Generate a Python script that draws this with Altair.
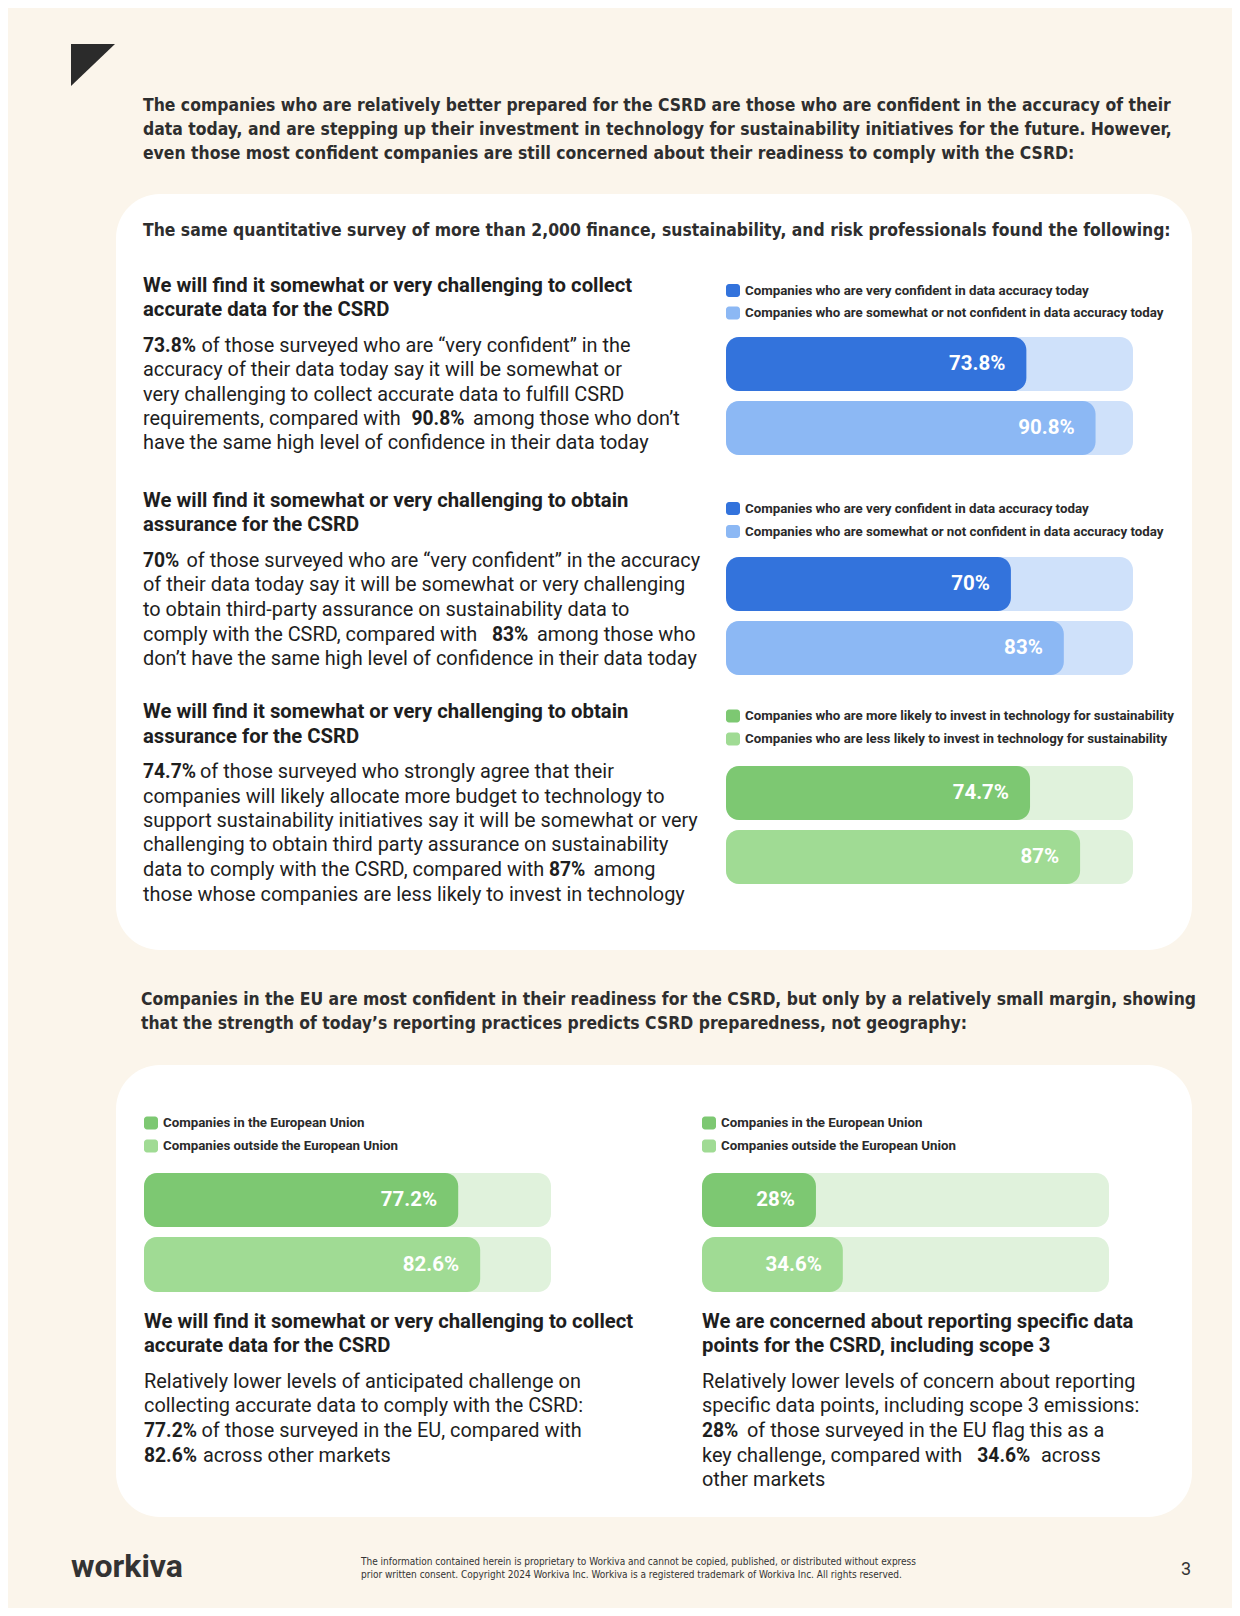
import altair as alt
import pandas as pd

# ---------------- data ----------------
values_collect_confidence = [73.8, 90.8]
values_assurance_confidence = [70, 83]
values_assurance_tech = [74.7, 87]
values_collect_eu = [77.2, 82.6]
values_scope3_eu = [28, 34.6]

legend_confidence = ["Companies who are very confident in data accuracy today",
                     "Companies who are somewhat or not confident in data accuracy today"]
legend_tech = ["Companies who are more likely to invest in technology for sustainability",
               "Companies who are less likely to invest in technology for sustainability"]
legend_eu = ["Companies in the European Union", "Companies outside the European Union"]

headline_lines = [
    "The companies who are relatively better prepared for the CSRD are those who are confident in the accuracy of their",
    "data today, and are stepping up their investment in technology for sustainability initiatives for the future. However,",
    "even those most confident companies are still concerned about their readiness to comply with the CSRD:",
]
subtitle_line = "The same quantitative survey of more than 2,000 finance, sustainability, and risk professionals found the following:"
headline2_lines = [
    "Companies in the EU are most confident in their readiness for the CSRD, but only by a relatively small margin, showing",
    "that the strength of today\u2019s reporting practices predicts CSRD preparedness, not geography:",
]
title_collect = ["We will find it somewhat or very challenging to collect", "accurate data for the CSRD"]
title_assurance = ["We will find it somewhat or very challenging to obtain", "assurance for the CSRD"]
title_scope3 = ["We are concerned about reporting specific data", "points for the CSRD, including scope 3"]

# body text: each line is a list of (weight, text) segments
body_1 = [
    [("b", "73.8%"), ("r", "of those surveyed who are \u201cvery confident\u201d in the")],
    [("r", "accuracy of their data today say it will be somewhat or")],
    [("r", "very challenging to collect accurate data to fulfill CSRD")],
    [("r", "requirements, compared with"), ("b", "90.8%"), ("r", "among those who don\u2019t")],
    [("r", "have the same high level of confidence in their data today")],
]
body_2 = [
    [("b", "70%"), ("r", "of those surveyed who are \u201cvery confident\u201d in the accuracy")],
    [("r", "of their data today say it will be somewhat or very challenging")],
    [("r", "to obtain third-party assurance on sustainability data to")],
    [("r", "comply with the CSRD, compared with"), ("b", "83%"), ("r", "among those who")],
    [("r", "don\u2019t have the same high level of confidence in their data today")],
]
body_3 = [
    [("b", "74.7%"), ("r", "of those surveyed who strongly agree that their")],
    [("r", "companies will likely allocate more budget to technology to")],
    [("r", "support sustainability initiatives say it will be somewhat or very")],
    [("r", "challenging to obtain third party assurance on sustainability")],
    [("r", "data to comply with the CSRD, compared with"), ("b", "87%"), ("r", "among")],
    [("r", "those whose companies are less likely to invest in technology")],
]
body_4 = [
    [("r", "Relatively lower levels of anticipated challenge on")],
    [("r", "collecting accurate data to comply with the CSRD:")],
    [("b", "77.2%"), ("r", "of those surveyed in the EU, compared with")],
    [("b", "82.6%"), ("r", "across other markets")],
]
body_5 = [
    [("r", "Relatively lower levels of concern about reporting")],
    [("r", "specific data points, including scope 3 emissions:")],
    [("b", "28%"), ("r", "of those surveyed in the EU flag this as a")],
    [("r", "key challenge, compared with"), ("b", "34.6%"), ("r", "across")],
    [("r", "other markets")],
]
footer_lines = [
    "The information contained herein is proprietary to Workiva and cannot be copied, published, or distributed without express",
    "prior written consent. Copyright 2024 Workiva Inc. Workiva is a registered trademark of Workiva Inc. All rights reserved.",
]
logo_text = "workiva"
page_number = "3"

# ---------------- styles / layout ----------------
BG = "#FBF5EB"
BLUE = ["#3373DC", "#8CB8F4"]
BLUE_TRACK = "#CFE1FA"
GREEN = ["#7DC872", "#A0DB94"]
GREEN_TRACK = "#E0F2DC"
HEAD_FONT = "DejaVu Sans Condensed, Roboto"
BODY_FONT = "Roboto"
DARK = "#2E2E2E"
TEXT = "#1E1E1E"

XS = alt.Scale(domain=[8, 1232], nice=False, zero=False)
YS = alt.Scale(domain=[8, 1608], nice=False, zero=False, reverse=True)


def text_layer(rows, size, weight, color, font, align="left"):
    df = pd.DataFrame(rows, columns=["px", "py", "t"])
    return alt.Chart(df).mark_text(align=align, baseline="middle", font=font, fontSize=size,
                                   fontWeight=weight, color=color).encode(
        x=alt.X("px:Q", scale=XS, axis=None),
        y=alt.Y("py:Q", scale=YS, axis=None),
        text="t:N")


layers = []

# cards
cards = pd.DataFrame({"x0": [116, 116], "x1": [1192, 1192], "y0": [194, 1065], "y1": [950, 1517]})
layers.append(alt.Chart(cards).mark_rect(cornerRadius=44, color="white").encode(
    x=alt.X("x0:Q", scale=XS, axis=None), x2="x1:Q",
    y=alt.Y("y0:Q", scale=YS, axis=None), y2="y1:Q"))

# corner triangle
tri = pd.DataFrame({"px": [71, 115], "py": [44, 44], "py2": [86, 44]})
layers.append(alt.Chart(tri).mark_area(color="#2B2B2B", orient="vertical").encode(
    x=alt.X("px:Q", scale=XS, axis=None),
    y=alt.Y("py:Q", scale=YS, axis=None), y2="py2:Q"))

# bar panels
panels = [
    dict(values=values_collect_confidence, legend=legend_confidence, pal=BLUE, track=BLUE_TRACK,
         x0=726, x1=1133, leg_y=[290.5, 313], rows=[(337, 391), (401, 455)]),
    dict(values=values_assurance_confidence, legend=legend_confidence, pal=BLUE, track=BLUE_TRACK,
         x0=726, x1=1133, leg_y=[508.5, 531.5], rows=[(557, 611), (621, 675)]),
    dict(values=values_assurance_tech, legend=legend_tech, pal=GREEN, track=GREEN_TRACK,
         x0=726, x1=1133, leg_y=[716, 739], rows=[(766, 820), (830, 884)]),
    dict(values=values_collect_eu, legend=legend_eu, pal=GREEN, track=GREEN_TRACK,
         x0=144, x1=551, leg_y=[1123, 1146], rows=[(1173, 1227), (1237, 1292)]),
    dict(values=values_scope3_eu, legend=legend_eu, pal=GREEN, track=GREEN_TRACK,
         x0=702, x1=1109, leg_y=[1123, 1146], rows=[(1173, 1227), (1237, 1292)]),
]

legend_sq = []
legend_txt = []
for p in panels:
    W = p["x1"] - p["x0"]
    vs = alt.Scale(domain=[(8 - p["x0"]) / W * 100, (1232 - p["x0"]) / W * 100], nice=False, zero=False)
    df = pd.DataFrame({
        "value": p["values"],
        "zero": [0, 0],
        "full": [100, 100],
        "y0": [r[0] for r in p["rows"]],
        "y1": [r[1] for r in p["rows"]],
        "c": p["pal"],
    })
    base = alt.Chart(df)
    layers.append(base.mark_rect(cornerRadius=13, color=p["track"]).encode(
        x=alt.X("zero:Q", scale=vs, axis=None), x2="full:Q",
        y=alt.Y("y0:Q", scale=YS, axis=None), y2="y1:Q"))
    layers.append(base.mark_rect(cornerRadius=13).encode(
        x=alt.X("zero:Q", scale=vs, axis=None), x2="value:Q",
        y=alt.Y("y0:Q", scale=YS, axis=None), y2="y1:Q",
        color=alt.Color("c:N", scale=None)))
    layers.append(base.transform_calculate(
        lab="datum.value + '%'", ym="(datum.y0 + datum.y1) / 2"
    ).mark_text(align="right", baseline="middle", dx=-21, font=BODY_FONT, fontSize=20.5,
                fontWeight="bold", color="white").encode(
        x=alt.X("value:Q", scale=vs, axis=None),
        y=alt.Y("ym:Q", scale=YS, axis=None),
        text="lab:N"))
    for i in range(2):
        yc = p["leg_y"][i]
        legend_sq.append({"x0": p["x0"], "x1": p["x0"] + 14, "y0": yc - 6.5, "y1": yc + 6.5, "c": p["pal"][i]})
        legend_txt.append((p["x0"] + 19, yc, p["legend"][i]))

layers.append(alt.Chart(pd.DataFrame(legend_sq)).mark_rect(cornerRadius=3).encode(
    x=alt.X("x0:Q", scale=XS, axis=None), x2="x1:Q",
    y=alt.Y("y0:Q", scale=YS, axis=None), y2="y1:Q",
    color=alt.Color("c:N", scale=None)))
layers.append(text_layer(legend_txt, 13.3, "bold", "#2A2A2A", BODY_FONT))

# headings
head_rows = [(143, y, t) for y, t in zip([105.5, 130, 154], headline_lines)]
head_rows.append((143, 231, subtitle_line))
head_rows += [(141, y, t) for y, t in zip([1000, 1023.5], headline2_lines)]
layers.append(text_layer(head_rows, 17.4, "bold", DARK, HEAD_FONT))

# section titles
title_rows = []
for x, ys, lines in [(143, [285.5, 309.5], title_collect), (143, [501, 525], title_assurance),
                     (143, [711.5, 736.5], title_assurance), (144, [1322, 1346], title_collect),
                     (702, [1322, 1346], title_scope3)]:
    title_rows += [(x, y, t) for y, t in zip(ys, lines)]
layers.append(text_layer(title_rows, 20.3, "bold", TEXT, BODY_FONT))

# body text with segment x positions
body_layout = [
    (body_1, [346, 370, 394.5, 418.5, 443], [[143, 201.5], [143], [143], [143, 411.5, 473], [143]]),
    (body_2, [560.5, 585, 609.5, 634.5, 659], [[143, 186.5], [143], [143], [143, 492, 537], [143]]),
    (body_3, [771.5, 796.5, 820.5, 845, 870, 894.5], [[143, 200], [143], [143], [143], [143, 549, 593.6], [143]]),
    (body_4, [1381.5, 1406, 1431, 1455.5], [[144], [144], [144, 201.5], [144, 203]]),
    (body_5, [1381.5, 1406, 1431, 1455.5, 1479.5], [[702], [702], [702, 747], [702, 977.3, 1041], [702]]),
]
reg_rows, bold_rows = [], []
for block, ys, xs in body_layout:
    for line, y, lx in zip(block, ys, xs):
        for (w, t), x in zip(line, lx):
            (bold_rows if w == "b" else reg_rows).append((x, y, t))
layers.append(text_layer(reg_rows, 19.9, "normal", TEXT, BODY_FONT))
layers.append(text_layer(bold_rows, 19.3, "bold", TEXT, BODY_FONT))

# footer
layers.append(text_layer([(71, 1567, logo_text)], 32, "bold", "#333333", BODY_FONT))
layers.append(text_layer([(361, 1562, footer_lines[0]), (361, 1574.5, footer_lines[1])],
                         10, "normal", "#333333", HEAD_FONT))
layers.append(text_layer([(1186, 1569.5, page_number)], 18, "normal", "#333333", BODY_FONT, align="center"))

chart = alt.layer(*layers).resolve_scale(x="independent").properties(
    width=1224, height=1600, background=BG, padding=0,
    autosize=alt.AutoSizeParams(type="none"),
).configure_view(stroke=None)

chart.save("out.html", embed_options={"renderer": "svg", "actions": False})
